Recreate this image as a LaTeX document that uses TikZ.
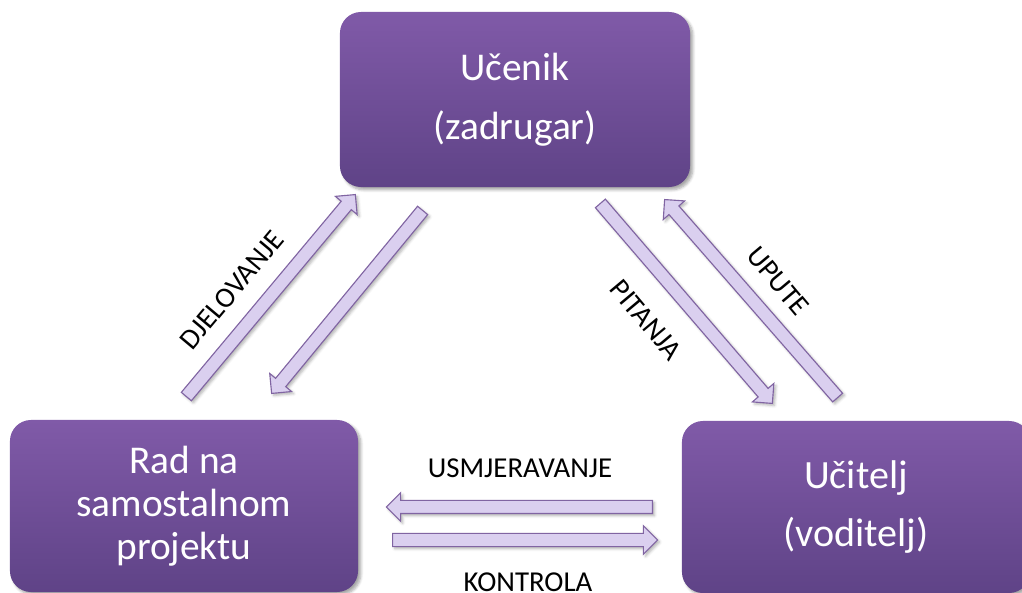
\documentclass[tikz,border=0pt]{standalone}
\usepackage{fontspec}
\setmainfont{Carlito}
\usetikzlibrary{calc,shapes.arrows,shadows.blur}

\definecolor{boxtop}{HTML}{805AA8}
\definecolor{boxbot}{HTML}{5F4387}
\definecolor{arrfill}{HTML}{DACFEF}
\definecolor{arredge}{HTML}{8064A2}

\tikzset{
  box/.style={rounded corners=15pt, top color=boxtop, bottom color=boxbot,
    draw=none, text=white, align=center, minimum width=8.7cm, minimum height=4.3cm,
    blur shadow={shadow xshift=2pt, shadow yshift=-2pt, shadow opacity=35, shadow blur steps=6},
    font=\fontsize{28}{42}\selectfont},
  barrow/.style={single arrow, draw=arredge, fill=arrfill, line width=0.8pt,
    inner xsep=0pt, inner ysep=0.15cm, single arrow head extend=0.19cm,
    blur shadow={shadow xshift=1.5pt, shadow yshift=-1.5pt, shadow opacity=30, shadow blur steps=4}},
  lbl/.style={font=\fontsize{20.5}{24}\selectfont, text=black}
}

\newcommand\blockarrow[2]{%
  \path let \p1=($(#2)-(#1)$), \n1={atan2(\y1,\x1)}, \n2={veclen(\x1,\y1)} in
    node[barrow, minimum height=\n2, rotate=\n1, anchor=tail] at (#1) {};}

\begin{document}
\begin{tikzpicture}[x=0.025cm,y=0.025cm]
\clip (0,0) rectangle (1022,593);

% boxes
\node[box, minimum width=8.75cm, minimum height=4.375cm] (ucenik) at (515,493.5) {U\v{c}enik\\(zadrugar)};
\node[box, font=\fontsize{28}{30.5}\selectfont] (rad) at (184,87) {Rad na\\samostalnom\\projektu};
\node[box, font=\fontsize{28.5}{41}\selectfont] (ucitelj) at (856,86) {U\v{c}itelj\\(voditelj)};

% arrow ends
\coordinate (djA) at (186,196);
\coordinate (djB) at (355,398);
\coordinate (raA) at (423,383);
\coordinate (raB) at (272,200);
\coordinate (piA) at (600,390);
\coordinate (piB) at (772,190);
\coordinate (upA) at (838,195);
\coordinate (upB) at (665,393);
\coordinate (usA) at (653,86);
\coordinate (usB) at (387,86);
\coordinate (koA) at (392,53);
\coordinate (koB) at (657,53);

\blockarrow{djA}{djB}
\blockarrow{raA}{raB}
\blockarrow{piA}{piB}
\blockarrow{upA}{upB}
\blockarrow{usA}{usB}
\blockarrow{koA}{koB}

% labels
\node[lbl, rotate=50] (djelovanje) at (232,303) {DJELOVANJE};
\node[lbl, rotate=-50] (pitanja) at (646,273) {PITANJA};
\node[lbl, rotate=-50] (upute) at (778,312) {UPUTE};
\node[lbl] (usmjeravanje) at (520,125) {USMJERAVANJE};
\node[lbl, inner sep=0pt, anchor=base] (kontrola) at (528,1.5) {KONTROLA};

\end{tikzpicture}
\end{document}
